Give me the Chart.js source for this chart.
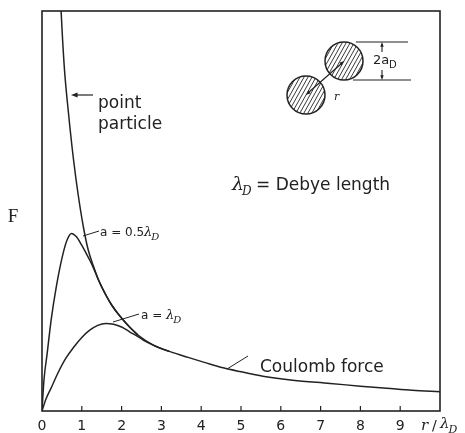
<!DOCTYPE html>
<html>
<head>
<meta charset="utf-8">
<script src="https://cdn.jsdelivr.net/npm/chart.js@4/dist/chart.umd.min.js"></script>
<style>
  html, body { margin: 0; padding: 0; background: #fff; }
  #wrap { width: 465px; height: 433px; position: relative; }
</style>
</head>
<body>
<div id="wrap"><canvas id="chart"></canvas></div>
<script>
// x ticks (r / lambda_D)
const xTicks = [0, 1, 2, 3, 4, 5, 6, 7, 8, 9];

// point particle (pure Coulomb)
const rPoint = [0.45, 0.48, 0.56, 0.66, 0.79, 0.91, 1.04, 1.16, 1.3, 1.42, 1.58, 1.75, 1.95, 2.2, 2.41, 2.83, 3.2, 3.67, 4.1, 4.55, 5.0, 5.55, 6.3, 7.24, 8.0, 8.66, 9.3, 10];
const fPoint = [10.7, 10.0, 8.6, 7.5, 6.3, 5.4, 4.6, 4.03, 3.6, 3.28, 2.95, 2.65, 2.38, 2.1, 1.9, 1.63, 1.49, 1.34, 1.21, 1.08, 0.98, 0.87, 0.77, 0.69, 0.62, 0.57, 0.52, 0.48];

// a = 0.5 lambda_D
const rHalf = [0, 0.05, 0.13, 0.23, 0.36, 0.53, 0.64, 0.74, 0.86, 0.99, 1.1, 1.21, 1.3, 1.42, 1.58, 1.75, 1.95, 2.2, 2.41];
const fHalf = [0, 0.78, 1.44, 2.28, 3.11, 3.94, 4.3, 4.44, 4.36, 4.16, 3.96, 3.75, 3.56, 3.27, 2.94, 2.65, 2.38, 2.1, 1.9];

// a = lambda_D
const rFull = [0, 0.1, 0.25, 0.4, 0.6, 0.8, 1.0, 1.2, 1.4, 1.6, 1.8, 2.0, 2.2, 2.41, 2.6, 2.83, 3.2];
const fFull = [0, 0.3, 0.62, 0.95, 1.32, 1.6, 1.84, 2.02, 2.14, 2.19, 2.17, 2.1, 1.98, 1.86, 1.74, 1.63, 1.49];

const INK = '#222';

function zip(xs, ys) {
    return xs.map((x, i) => ({ x: x, y: ys[i] }));
}

function curve(label, xs, ys) {
    return {
        label: label,
        data: zip(xs, ys),
        borderColor: INK,
        borderWidth: 1.5,
        pointRadius: 0,
        fill: false,
        cubicInterpolationMode: 'monotone'
    };
}

function arrowHead(ctx, x, y, ang, len) {
    ctx.beginPath();
    ctx.moveTo(x, y);
    ctx.lineTo(x - len * Math.cos(ang - 0.35), y - len * Math.sin(ang - 0.35));
    ctx.lineTo(x - len * Math.cos(ang + 0.35), y - len * Math.sin(ang + 0.35));
    ctx.closePath();
    ctx.fill();
}

function hatchedCircle(ctx, cx, cy, rad) {
    ctx.save();
    ctx.beginPath();
    ctx.arc(cx, cy, rad, 0, Math.PI * 2);
    ctx.clip();
    ctx.lineWidth = 0.9;
    for (let k = -40; k <= 40; k += 4) {
        ctx.beginPath();
        ctx.moveTo(cx + k - 14, cy + 25);
        ctx.lineTo(cx + k + 14, cy - 25);
        ctx.stroke();
    }
    ctx.restore();
    ctx.beginPath();
    ctx.arc(cx, cy, rad, 0, Math.PI * 2);
    ctx.lineWidth = 1.5;
    ctx.stroke();
}

// lambda with a subscript D
function lambdaD(ctx, x, y, size, sub) {
    ctx.font = 'italic ' + size + 'px "DejaVu Serif"';
    ctx.fillText('\u03bb', x, y);
    const w = ctx.measureText('\u03bb').width;
    ctx.font = 'italic ' + sub + 'px "DejaVu Serif"';
    ctx.fillText('D', x + w - 1, y + size * 0.3);
    return w - 1 + ctx.measureText('D').width;
}

const decorations = {
    id: 'decorations',
    afterDraw(chart) {
        const ctx = chart.ctx;
        const a = chart.chartArea;
        const xs = chart.scales.x;
        ctx.save();
        ctx.strokeStyle = INK;
        ctx.fillStyle = INK;

        // frame
        ctx.lineWidth = 1.6;
        ctx.strokeRect(a.left, a.top, a.right - a.left, a.bottom - a.top);

        // inward ticks
        ctx.lineWidth = 1.2;
        xTicks.forEach(v => {
            if (v === 0) return;
            const px = xs.getPixelForValue(v);
            ctx.beginPath();
            ctx.moveTo(px, a.bottom);
            ctx.lineTo(px, a.bottom - 5);
            ctx.stroke();
        });

        // x axis title r / lambda_D
        ctx.textBaseline = 'alphabetic';
        ctx.textAlign = 'left';
        ctx.font = 'italic 15px "DejaVu Serif"';
        ctx.fillText('r', 421, 430);
        ctx.font = '14px "DejaVu Sans"';
        ctx.fillText('/', 432, 430);
        lambdaD(ctx, 440, 428, 15, 11);

        // y axis title
        ctx.font = '19px "Liberation Serif"';
        ctx.textAlign = 'center';
        ctx.fillText('F', 13, 222);

        // point particle
        ctx.textAlign = 'left';
        ctx.font = '17px "DejaVu Sans"';
        ctx.fillText('point', 98, 108);
        ctx.fillText('particle', 98, 129);
        ctx.lineWidth = 1.2;
        ctx.beginPath();
        ctx.moveTo(93, 95);
        ctx.lineTo(75, 95);
        ctx.stroke();
        arrowHead(ctx, 71, 95, Math.PI, 7);

        // Debye length
        ctx.font = 'italic 19px "DejaVu Serif"';
        ctx.fillText('\u03bb', 232, 190);
        ctx.font = 'italic 12px "DejaVu Serif"';
        ctx.fillText('D', 242, 195);
        ctx.font = '17px "DejaVu Sans"';
        ctx.fillText('= Debye length', 256, 190);

        // a = 0.5 lambda_D
        ctx.lineWidth = 1;
        ctx.beginPath();
        ctx.moveTo(83, 236);
        ctx.lineTo(99, 231);
        ctx.stroke();
        ctx.font = '12px "DejaVu Sans"';
        ctx.fillText('a = 0.5', 100, 236);
        let w = ctx.measureText('a = 0.5').width;
        lambdaD(ctx, 100 + w, 236, 13, 10);

        // a = lambda_D
        ctx.beginPath();
        ctx.moveTo(113, 322);
        ctx.lineTo(139, 314);
        ctx.stroke();
        ctx.font = '12px "DejaVu Sans"';
        ctx.fillText('a = ', 141, 319);
        w = ctx.measureText('a = ').width;
        lambdaD(ctx, 141 + w, 319, 13, 10);

        // Coulomb force
        ctx.beginPath();
        ctx.moveTo(227, 369);
        ctx.lineTo(248, 356);
        ctx.stroke();
        ctx.font = '17px "DejaVu Sans"';
        ctx.fillText('Coulomb force', 260, 372);

        // inset sketch of two particles
        hatchedCircle(ctx, 344, 61, 19);
        hatchedCircle(ctx, 306, 95, 19);
        ctx.lineWidth = 1.2;
        ctx.beginPath();
        ctx.moveTo(309, 92);
        ctx.lineTo(341, 64);
        ctx.stroke();
        arrowHead(ctx, 344, 61, Math.atan2(-34, 38), 5);
        arrowHead(ctx, 306, 95, Math.atan2(34, -38), 5);
        ctx.font = 'italic 11px "DejaVu Serif"';
        ctx.fillText('r', 334, 100);

        // dimension lines 2a_D
        ctx.lineWidth = 1.1;
        ctx.beginPath();
        ctx.moveTo(356, 42);
        ctx.lineTo(408, 42);
        ctx.moveTo(353, 80);
        ctx.lineTo(411, 80);
        ctx.moveTo(382, 44);
        ctx.lineTo(382, 52);
        ctx.moveTo(382, 78);
        ctx.lineTo(382, 70);
        ctx.stroke();
        arrowHead(ctx, 382, 42, -Math.PI / 2, 5);
        arrowHead(ctx, 382, 80, Math.PI / 2, 5);
        ctx.font = '13px "DejaVu Sans"';
        ctx.fillText('2a', 373, 64);
        ctx.font = '10px "DejaVu Sans"';
        ctx.fillText('D', 389, 68);

        ctx.restore();
    }
};

new Chart(document.getElementById('chart'), {
    type: 'line',
    data: {
        datasets: [
            curve('point particle', rPoint, fPoint),
            curve('a = 0.5 lambda_D', rHalf, fHalf),
            curve('a = lambda_D', rFull, fFull)
        ]
    },
    options: {
        responsive: true,
        maintainAspectRatio: false,
        animation: false,
        layout: { padding: { left: 42, right: 25, top: 11, bottom: 0 } },
        plugins: { legend: { display: false }, tooltip: { enabled: false } },
        scales: {
            x: {
                type: 'linear',
                min: 0,
                max: 10,
                grid: { display: false, drawTicks: false },
                border: { display: false },
                afterFit(scale) { scale.height = 22; },
                ticks: {
                    stepSize: 1,
                    padding: 7,
                    color: INK,
                    font: { family: 'DejaVu Sans', size: 14 },
                    callback: v => (xTicks.includes(v) ? String(v) : '')
                }
            },
            y: {
                display: false,
                min: 0,
                max: 10
            }
        }
    },
    plugins: [decorations]
});
</script>
</body>
</html>
